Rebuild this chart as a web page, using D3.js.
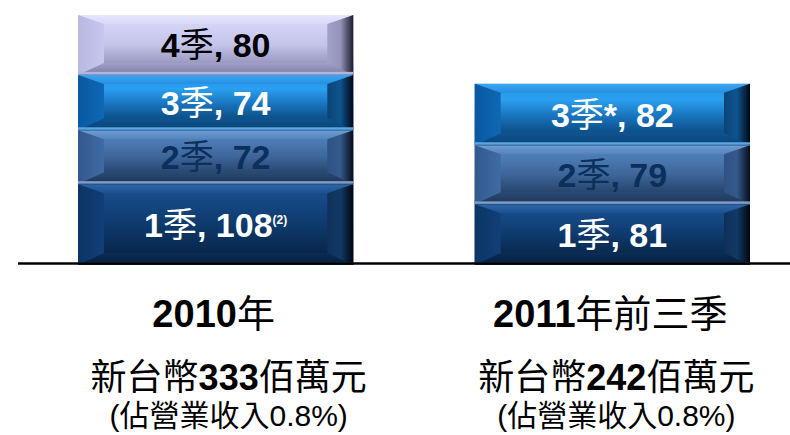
<!DOCTYPE html>
<html>
<head>
<meta charset="utf-8">
<script src="https://cdn.jsdelivr.net/npm/d3@7"></script>
<style>
  html, body { margin: 0; padding: 0; background: #fff; }
  svg { display: block; }
  text { font-family: "Liberation Sans", Arial, "Noto Sans CJK TC", sans-serif; }
</style>
</head>
<body>
<div id="chart"></div>
<script>
// data
const periods = ['2010年', '2011年前三季'];
const quarters2010 = ['1季', '2季', '3季', '4季'];
const values2010 = [108, 72, 74, 80];
const marks2010 = ['(2)', '', '', ''];
const quarters2011 = ['1季', '2季', '3季*'];
const values2011 = [81, 79, 82];
const marks2011 = ['', '', ''];
const totals = ['333', '242'];
const shares = ['0.8%', '0.8%'];

const width = 790, height = 435;

// colour of each quarter's block (index = quarter)
const palettes = [
    { top: '#2d66a8', face: ['#1a5090', '#144680', '#0e3a6c', '#0a2c54', '#061e3e'], line: '#34598a',
      left: ['#0c3466', '#123f78'], right: ['#0e3058', '#123a66', '#01060f'], text: '#ffffff' },
    { top: '#6f9dd4', face: ['#5484bd', '#4a78b0', '#3d6598', '#2a4a74', '#1c3454'], line: '#7d9dc9',
      left: ['#33598e', '#3f6ba3'], right: ['#2f5282', '#34598c', '#070d18'], text: '#0b305c' },
    { top: '#3aa6f0', face: ['#2590e2', '#2aa0f0', '#1a78c2', '#0e5490', '#0a4274'], line: '#5aa6e0',
      left: ['#0a58a0', '#0e68b4'], right: ['#0c4476', '#0e5490', '#000914'], text: '#ffffff' },
    { top: '#e6e6fd', face: ['#d9d9f8', '#d0d0f4', '#c4c4ea', '#a0a0c8', '#7c7ca4'], line: '#b4b4da',
      left: ['#b8b8e2', '#c6c6ee'], right: ['#a0a0c8', '#9494bc', '#1c1c2a'], text: '#000000' }
];

const bars = [
    { period: periods[0], quarters: quarters2010, values: values2010, marks: marks2010 },
    { period: periods[1], quarters: quarters2011, values: values2011, marks: marks2011 }
];

const svg = d3.select('#chart').append('svg')
    .attr('width', width)
    .attr('height', height);

const defs = svg.append('defs');

function grad(id, stops, horizontal) {
    const g = defs.append('linearGradient').attr('id', id)
        .attr('x1', 0).attr('y1', 0)
        .attr('x2', horizontal ? 1 : 0).attr('y2', horizontal ? 0 : 1);
    stops.forEach((c, i) => g.append('stop').attr('offset', i / (stops.length - 1)).attr('stop-color', c));
}

palettes.forEach((p, i) => {
    grad('face' + i, p.face);
    grad('top' + i, [p.top, p.face[0]]);
    grad('bot' + i, [p.face[3], p.face[4]]);
    grad('left' + i, p.left, true);
    grad('right' + i, p.right, true);
});

// CJK characters stay regular, latin/digits take the given weight
function addRuns(textSel, str, weight) {
    const runs = str.match(/[\u3000-\u9fff]+|[^\u3000-\u9fff]+/g) || [];
    runs.forEach(r => {
        textSel.append('tspan')
            .attr('font-weight', /[\u3000-\u9fff]/.test(r) ? 'normal' : weight)
            .text(r);
    });
}

const x = d3.scaleBand()
    .domain(periods)
    .range([78, 750])
    .paddingInner(0.306);

const y = d3.scaleLinear()
    .domain([0, d3.sum(values2010)])
    .range([265, 15]);

bars.forEach(bar => {
    const x0 = x(bar.period), x1 = x0 + x.bandwidth();
    const cx = x0 + x.bandwidth() / 2;
    let acc = 0;
    const g = svg.append('g');
    bar.values.forEach((v, i) => {
        const yb = y(acc), yt = y(acc + v);
        acc += v;
        const h = 26, t = 9, b = 12;
        const seg = g.append('g');
        seg.append('rect')
            .attr('x', x0).attr('y', yt)
            .attr('width', x1 - x0).attr('height', yb - yt)
            .attr('fill', `url(#face${i})`);
        const poly = (pts, fill) => seg.append('polygon')
            .attr('points', pts.map(p => p.join(',')).join(' '))
            .attr('fill', fill);
        poly([[x0, yt], [x1, yt], [x1 - h, yt + t], [x0 + h, yt + t]], `url(#top${i})`);
        poly([[x0, yb], [x1, yb], [x1 - h, yb - b], [x0 + h, yb - b]], `url(#bot${i})`);
        poly([[x0, yt], [x0 + h, yt + t], [x0 + h, yb - b], [x0, yb]], `url(#left${i})`);
        poly([[x1, yt], [x1 - h, yt + t], [x1 - h, yb - b], [x1, yb]], `url(#right${i})`);
        // thin light line under each block
        seg.append('rect')
            .attr('x', x0).attr('y', yb - 3)
            .attr('width', x1 - x0).attr('height', 2.5)
            .attr('fill', palettes[i].line);

        const label = seg.append('text')
            .attr('x', cx)
            .attr('y', (yt + yb) / 2 + 12)
            .attr('text-anchor', 'middle')
            .attr('font-size', 34)
            .attr('fill', palettes[i].text);
        addRuns(label, `${bar.quarters[i]}, ${v}`, 'bold');
        if (bar.marks[i]) {
            label.append('tspan')
                .attr('font-size', 12)
                .attr('font-weight', 'bold')
                .attr('dy', -13)
                .text(bar.marks[i]);
        }
    });
});

// base line
svg.append('line')
    .attr('x1', 18).attr('x2', 790)
    .attr('y1', 263.5).attr('y2', 263.5)
    .attr('stroke', '#000')
    .attr('stroke-width', 2.5);

// captions under each bar
const captionShift = [13, 4];
periods.forEach((p, i) => {
    const cx = x(p) + x.bandwidth() / 2;
    const t1 = svg.append('text')
        .attr('x', cx - 2).attr('y', 327)
        .attr('text-anchor', 'middle')
        .attr('font-size', 38);
    addRuns(t1, p, 'bold');

    const t2 = svg.append('text')
        .attr('x', cx + captionShift[i]).attr('y', 390)
        .attr('text-anchor', 'middle')
        .attr('font-size', 36);
    t2.append('tspan').text('新台幣');
    t2.append('tspan').attr('font-weight', 'bold').text(totals[i]);
    t2.append('tspan').text('佰萬元');

    svg.append('text')
        .attr('x', cx + captionShift[i]).attr('y', 426)
        .attr('text-anchor', 'middle')
        .attr('font-size', 30)
        .text(`(佔營業收入${shares[i]})`);
});
</script>
</body>
</html>
